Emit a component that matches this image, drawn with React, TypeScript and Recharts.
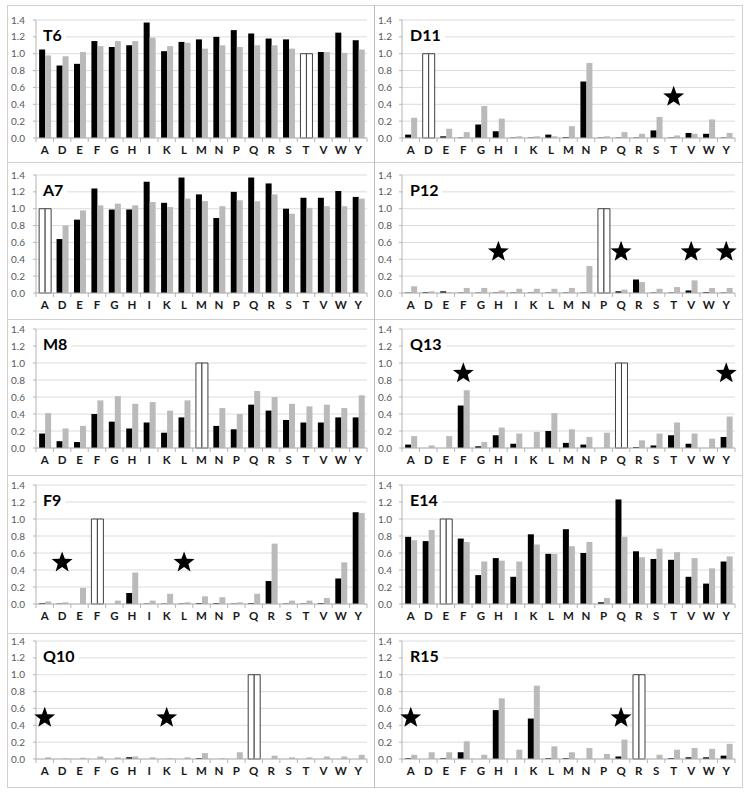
import React from 'react';
import { ComposedChart, Bar, XAxis, YAxis, CartesianGrid, Cell, ReferenceDot } from 'recharts';

const AA = ['A', 'D', 'E', 'F', 'G', 'H', 'I', 'K', 'L', 'M', 'N', 'P', 'Q', 'R', 'S', 'T', 'V', 'W', 'Y'];
const Y_TICKS = [0, 0.2, 0.4, 0.6, 0.8, 1.0, 1.2, 1.4];

const T6_BLACK = [1.05, 0.86, 0.88, 1.15, 1.08, 1.10, 1.37, 1.03, 1.14, 1.17, 1.20, 1.28, 1.24, 1.18, 1.17, 1.0, 1.02, 1.25, 1.16];
const T6_GRAY = [0.98, 0.97, 1.02, 1.09, 1.15, 1.15, 1.19, 1.09, 1.13, 1.06, 1.10, 1.08, 1.10, 1.10, 1.06, 1.0, 1.02, 1.01, 1.05];

const A7_BLACK = [1.0, 0.64, 0.87, 1.24, 0.99, 0.99, 1.32, 1.07, 1.37, 1.17, 0.89, 1.20, 1.37, 1.30, 1.00, 1.13, 1.13, 1.21, 1.14];
const A7_GRAY = [1.0, 0.80, 0.98, 1.04, 1.06, 1.04, 1.08, 1.02, 1.12, 1.09, 1.03, 1.10, 1.09, 1.17, 0.94, 1.01, 1.03, 1.03, 1.12];

const M8_BLACK = [0.17, 0.08, 0.07, 0.40, 0.31, 0.23, 0.30, 0.18, 0.36, 1.0, 0.26, 0.22, 0.51, 0.44, 0.33, 0.30, 0.30, 0.36, 0.36];
const M8_GRAY = [0.41, 0.23, 0.26, 0.56, 0.61, 0.52, 0.54, 0.44, 0.56, 1.0, 0.47, 0.40, 0.67, 0.60, 0.52, 0.49, 0.51, 0.47, 0.62];

const F9_BLACK = [0.01, 0.005, 0, 1.0, 0, 0.13, 0.005, 0.005, 0.005, 0.01, 0.01, 0.005, 0.01, 0.27, 0.005, 0.005, 0.01, 0.30, 1.08];
const F9_GRAY = [0.03, 0.02, 0.19, 1.0, 0.04, 0.37, 0.04, 0.12, 0.02, 0.09, 0.08, 0.02, 0.12, 0.71, 0.04, 0.04, 0.07, 0.49, 1.07];

const Q10_BLACK = [0, 0, 0, 0, 0, 0.02, 0, 0, 0, 0.01, 0, 0, 1.0, 0, 0, 0, 0, 0, 0];
const Q10_GRAY = [0.02, 0.01, 0.015, 0.03, 0.02, 0.03, 0.02, 0.01, 0.02, 0.07, 0.01, 0.08, 1.0, 0.04, 0.02, 0.02, 0.03, 0.03, 0.05];

const D11_BLACK = [0.04, 1.0, 0.02, 0.005, 0.16, 0.08, 0.005, 0.005, 0.04, 0.01, 0.67, 0.005, 0.005, 0.005, 0.09, 0.005, 0.06, 0.05, 0.005];
const D11_GRAY = [0.24, 1.0, 0.11, 0.07, 0.38, 0.23, 0.02, 0.02, 0.02, 0.14, 0.89, 0.02, 0.07, 0.05, 0.25, 0.03, 0.05, 0.22, 0.06];

const P12_BLACK = [0.005, 0.01, 0.02, 0.005, 0.005, 0.005, 0.005, 0.005, 0.005, 0.005, 0.005, 1.0, 0.02, 0.16, 0.005, 0.005, 0.03, 0.01, 0.005];
const P12_GRAY = [0.08, 0.02, 0.01, 0.06, 0.06, 0.03, 0.05, 0.05, 0.05, 0.06, 0.32, 1.0, 0.04, 0.13, 0.05, 0.07, 0.15, 0.06, 0.06];

const Q13_BLACK = [0.04, 0, 0, 0.50, 0.02, 0.15, 0.05, 0, 0.20, 0.06, 0.04, 0, 1.0, 0.01, 0.03, 0.15, 0.05, 0, 0.13];
const Q13_GRAY = [0.14, 0.03, 0.14, 0.68, 0.07, 0.24, 0.17, 0.19, 0.41, 0.22, 0.13, 0.18, 1.0, 0.09, 0.17, 0.30, 0.17, 0.11, 0.37];

const E14_BLACK = [0.79, 0.74, 1.0, 0.77, 0.34, 0.54, 0.32, 0.82, 0.59, 0.88, 0.60, 0.02, 1.23, 0.62, 0.53, 0.52, 0.32, 0.24, 0.50];
const E14_GRAY = [0.75, 0.87, 1.0, 0.73, 0.50, 0.51, 0.50, 0.70, 0.59, 0.68, 0.73, 0.07, 0.79, 0.55, 0.65, 0.61, 0.54, 0.42, 0.56];

const R15_BLACK = [0.01, 0, 0.01, 0.08, 0, 0.58, 0, 0.48, 0.01, 0.01, 0, 0, 0.03, 1.0, 0, 0.01, 0.02, 0.02, 0.04];
const R15_GRAY = [0.05, 0.08, 0.08, 0.21, 0.05, 0.72, 0.11, 0.87, 0.15, 0.08, 0.13, 0.06, 0.23, 1.0, 0.05, 0.11, 0.13, 0.12, 0.18];

const PANELS = [
  { title: 'T6', wt: 'T', black: T6_BLACK, gray: T6_GRAY, stars: [] as string[], starY: 0.5 },
  { title: 'A7', wt: 'A', black: A7_BLACK, gray: A7_GRAY, stars: [] as string[], starY: 0.5 },
  { title: 'M8', wt: 'M', black: M8_BLACK, gray: M8_GRAY, stars: [] as string[], starY: 0.5 },
  { title: 'F9', wt: 'F', black: F9_BLACK, gray: F9_GRAY, stars: ['D', 'L'], starY: 0.5 },
  { title: 'Q10', wt: 'Q', black: Q10_BLACK, gray: Q10_GRAY, stars: ['A', 'K'], starY: 0.5 },
  { title: 'D11', wt: 'D', black: D11_BLACK, gray: D11_GRAY, stars: ['T'], starY: 0.5 },
  { title: 'P12', wt: 'P', black: P12_BLACK, gray: P12_GRAY, stars: ['H', 'Q', 'V', 'Y'], starY: 0.5 },
  { title: 'Q13', wt: 'Q', black: Q13_BLACK, gray: Q13_GRAY, stars: ['F', 'Y'], starY: 0.89 },
  { title: 'E14', wt: 'E', black: E14_BLACK, gray: E14_GRAY, stars: [] as string[], starY: 0.5 },
  { title: 'R15', wt: 'R', black: R15_BLACK, gray: R15_GRAY, stars: ['A', 'Q'], starY: 0.5 },
];

const FONT = 'Lato, "Open Sans", sans-serif';
const ROW_PLOT = [
  { top: 20, h: 118 },
  { top: 175, h: 118 },
  { top: 329, h: 119 },
  { top: 485, h: 119 },
  { top: 641, h: 118 },
];
const COLS = [
  { x: 0, yw: 36, mr: 8, gap: 8, titlePad: 6 },
  { x: 375, yw: 27, mr: 15, gap: 7, titlePad: 7 },
];

function starPoints(cx: number, cy: number, R: number, r: number) {
  const pts: string[] = [];
  for (let i = 0; i < 10; i++) {
    const rad = i % 2 === 0 ? R : r;
    const a = -Math.PI / 2 + (i * Math.PI) / 5;
    pts.push(`${cx + rad * Math.cos(a)},${cy + rad * Math.sin(a)}`);
  }
  return pts.join(' ');
}

const StarShape = (props: any) => {
  const { cx, cy } = props;
  if (cx == null || cy == null) return <g />;
  return <polygon points={starPoints(cx, cy + 1, 11, 4.6)} fill="#000" />;
};

function Panel({ p, col, row }: { p: typeof PANELS[number]; col: number; row: number }) {
  const c = COLS[col];
  const r = ROW_PLOT[row];
  const W = 375;
  const mt = 10;
  const xh = 28;
  const plotW = W - c.yw - c.mr;
  const band = plotW / AA.length;
  const axisY = mt + r.h;
  const data = AA.map((aa, i) => ({ aa, black: p.black[i], gray: p.gray[i] }));
  const last = AA[AA.length - 1];

  const XTick = (props: any) => {
    const { x, payload } = props;
    return (
      <g>
        <line x1={x - band / 2} x2={x - band / 2} y1={axisY} y2={axisY + 4} stroke="#b5b5b5" />
        {payload.value === last ? (
          <line x1={x + band / 2} x2={x + band / 2} y1={axisY} y2={axisY + 4} stroke="#b5b5b5" />
        ) : null}
        <text x={x} y={axisY + 15.5} textAnchor="middle" fontSize={11.5} fontWeight={700} fill="#1a1a1a" fontFamily={FONT}>
          {payload.value}
        </text>
      </g>
    );
  };

  return (
    <div style={{ position: 'absolute', left: c.x, top: r.top - mt }}>
      <ComposedChart
        width={W}
        height={mt + r.h + xh}
        data={data}
        margin={{ top: mt, right: c.mr, bottom: 0, left: 0 }}
        barCategoryGap="18%"
        barGap={0}
      >
        <CartesianGrid vertical={false} stroke="#dcdcdc" />
        <XAxis
          dataKey="aa"
          height={xh}
          interval={0}
          tickLine={false}
          axisLine={{ stroke: '#b5b5b5' }}
          tick={XTick}
        />
        <YAxis
          width={c.yw}
          domain={[0, 1.4]}
          ticks={Y_TICKS}
          interval={0}
          tickFormatter={(v: number) => v.toFixed(1)}
          tickSize={3}
          tickMargin={c.gap}
          axisLine={{ stroke: '#b5b5b5' }}
          tickLine={{ stroke: '#b5b5b5' }}
          tick={{ fill: '#595959', fontSize: 10, fontFamily: FONT }}
        />
        <Bar dataKey="black" isAnimationActive={false}>
          {data.map((d) => (
            <Cell
              key={d.aa}
              fill={d.aa === p.wt ? '#ffffff' : '#000000'}
              stroke={d.aa === p.wt ? '#404040' : 'none'}
              strokeWidth={1}
            />
          ))}
        </Bar>
        <Bar dataKey="gray" isAnimationActive={false}>
          {data.map((d) => (
            <Cell
              key={d.aa}
              fill={d.aa === p.wt ? '#ffffff' : '#bababa'}
              stroke={d.aa === p.wt ? '#404040' : 'none'}
              strokeWidth={1}
            />
          ))}
        </Bar>
        {p.stars.map((s) => (
          <ReferenceDot key={s} x={s} y={p.starY} r={10} shape={StarShape} ifOverflow="visible" />
        ))}
      </ComposedChart>
      <div
        style={{
          position: 'absolute',
          left: c.yw + 1,
          top: mt + 4,
          height: 22,
          lineHeight: '22px',
          paddingLeft: c.titlePad,
          paddingRight: 4,
          background: '#ffffff',
          fontFamily: FONT,
          fontWeight: 700,
          fontSize: 16,
          color: '#000',
        }}
      >
        {p.title}
      </div>
    </div>
  );
}

const H_LINES = [5, 162, 319, 475, 633, 787];
const V_LINES = [7, 374, 742];

export default function App() {
  return (
    <div
      style={{
        position: 'absolute',
        left: 0,
        top: 0,
        width: 750,
        height: 795,
        background: '#ffffff',
        fontFamily: FONT,
        overflow: 'hidden',
      }}
    >
      {H_LINES.map((y) => (
        <div key={'h' + y} style={{ position: 'absolute', left: 7, top: y, width: 736, height: 1, background: '#d0d0d0' }} />
      ))}
      {V_LINES.map((x) => (
        <div key={'v' + x} style={{ position: 'absolute', left: x, top: 5, width: 1, height: 783, background: x === 374 ? '#bdbdbd' : '#d0d0d0' }} />
      ))}
      {PANELS.map((p, i) => (
        <Panel key={p.title} p={p} col={i < 5 ? 0 : 1} row={i % 5} />
      ))}
    </div>
  );
}
